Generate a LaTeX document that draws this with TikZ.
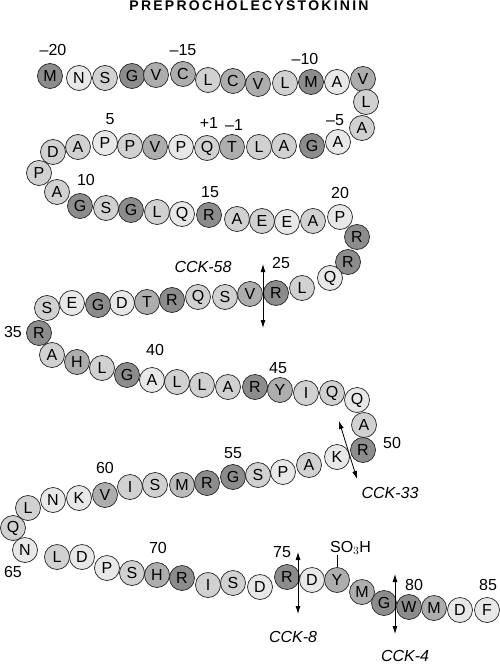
\documentclass[tikz,border=0pt]{standalone}
\usepackage{fontspec}
\setmainfont{Liberation Sans}
\usepackage{tikz}
\usetikzlibrary{arrows.meta}
\definecolor{dk}{gray}{0.55}
\definecolor{md}{gray}{0.68}
\definecolor{lt}{gray}{0.82}
\definecolor{vl}{gray}{0.91}

\begin{document}
\begin{tikzpicture}[x=1pt, y=-1pt,
    res/.style={circle, draw=black!85, line width=0.7pt, minimum size=25pt, inner sep=0pt, font=\fontsize{16}{16}\selectfont},
    num/.style={font=\fontsize{16}{16}\selectfont, inner sep=0pt},
    cut/.style={{Latex[length=8pt,width=5pt]}-{Latex[length=8pt,width=5pt]}, line width=0.8pt},
    cck/.style={font=\itshape\fontsize{16}{16}\selectfont, inner sep=0pt}]
    \useasboundingbox (0,0) rectangle (500,666);

    % Title
    \node[inner sep=0pt, font=\bfseries\fontsize{14}{14}\selectfont\addfontfeatures{LetterSpace=16}] (title) at (249,6) {PREPROCHOLECYSTOKININ};

    % Signal peptide (-20 to -1)
    \node[res, fill=dk] (m20) at (50,76) {M};
    \node[res, fill=vl] (m19) at (79,78) {N};
    \node[res, fill=lt] (m18) at (105,78) {S};
    \node[res, fill=dk] (m17) at (132,76) {G};
    \node[res, fill=md] (m16) at (156,75) {V};
    \node[res, fill=md] (m15) at (183,74) {C};
    \node[res, fill=lt] (m14) at (208,80) {L};
    \node[res, fill=md] (m13) at (233,81) {C};
    \node[res, fill=md] (m12) at (258,84) {V};
    \node[res, fill=lt] (m11) at (285,83) {L};
    \node[res, fill=dk] (m10) at (311,82) {M};
    \node[res, fill=vl] (m9) at (337,82) {A};
    \node[res, fill=md] (m8) at (363,79) {V};
    \node[res, fill=lt] (m7) at (366,102) {L};
    \node[res, fill=lt] (m6) at (362,128) {A};
    \node[res, fill=vl] (m5) at (338,142) {A};
    \node[res, fill=dk] (m4) at (312,146) {G};
    \node[res, fill=lt] (m3) at (284,146) {A};
    \node[res, fill=lt] (m2) at (259,147) {L};
    \node[res, fill=md] (m1) at (232,147) {T};

    % Residues 1 to 20
    \node[res, fill=lt] (r1) at (207,148) {Q};
    \node[res, fill=vl] (r2) at (181,147) {P};
    \node[res, fill=md] (r3) at (155,147) {V};
    \node[res, fill=lt] (r4) at (130,146) {P};
    \node[res, fill=vl] (r5) at (105,143) {P};
    \node[res, fill=lt] (r6) at (78,147) {A};
    \node[res, fill=lt] (r7) at (53,152) {D};
    \node[res, fill=lt] (r8) at (39,173) {P};
    \node[res, fill=lt] (r9) at (57,192) {A};
    \node[res, fill=dk] (r10) at (80,206) {G};
    \node[res, fill=lt] (r11) at (106,208) {S};
    \node[res, fill=dk] (r12) at (131,210) {G};
    \node[res, fill=lt] (r13) at (157,212) {L};
    \node[res, fill=vl] (r14) at (182,214) {Q};
    \node[res, fill=dk] (r15) at (209,215) {R};
    \node[res, fill=lt] (r16) at (237,219) {A};
    \node[res, fill=lt] (r17) at (262,221) {E};
    \node[res, fill=vl] (r18) at (287,222) {E};
    \node[res, fill=lt] (r19) at (313,221) {A};
    \node[res, fill=vl] (r20) at (340,217) {P};

    % Residues 21 to 40
    \node[res, fill=dk] (r21) at (357,237) {R};
    \node[res, fill=dk] (r22) at (348,262) {R};
    \node[res, fill=vl] (r23) at (330,278) {Q};
    \node[res, fill=lt] (r24) at (302,288) {L};
    \node[res, fill=dk] (r25) at (276,293) {R};
    \node[res, fill=md] (r26) at (250,294) {V};
    \node[res, fill=lt] (r27) at (225,297) {S};
    \node[res, fill=lt] (r28) at (198,297) {Q};
    \node[res, fill=dk] (r29) at (172,300) {R};
    \node[res, fill=md] (r30) at (147,302) {T};
    \node[res, fill=vl] (r31) at (122,303) {D};
    \node[res, fill=dk] (r32) at (98,305) {G};
    \node[res, fill=vl] (r33) at (72,303) {E};
    \node[res, fill=lt] (r34) at (47,308) {S};
    \node[res, fill=dk] (r35) at (39,333) {R};
    \node[res, fill=lt] (r36) at (52,355) {A};
    \node[res, fill=md] (r37) at (77,362) {H};
    \node[res, fill=lt] (r38) at (102,368) {L};
    \node[res, fill=dk] (r39) at (127,375) {G};
    \node[res, fill=vl] (r40) at (152,380) {A};

    % Residues 41 to 60
    \node[res, fill=lt] (r41) at (177,382) {L};
    \node[res, fill=lt] (r42) at (202,385) {L};
    \node[res, fill=lt] (r43) at (228,387) {A};
    \node[res, fill=dk] (r44) at (255,387) {R};
    \node[res, fill=md] (r45) at (280,390) {Y};
    \node[res, fill=lt] (r46) at (306,393) {I};
    \node[res, fill=lt] (r47) at (332,393) {Q};
    \node[res, fill=vl] (r48) at (357,400) {Q};
    \node[res, fill=lt] (r49) at (364,425) {A};
    \node[res, fill=dk] (r50) at (363,450) {R};
    \node[res, fill=vl] (r51) at (337,457) {K};
    \node[res, fill=lt] (r52) at (309,465) {A};
    \node[res, fill=vl] (r53) at (283,472) {P};
    \node[res, fill=lt] (r54) at (258,475) {S};
    \node[res, fill=dk] (r55) at (233,477) {G};
    \node[res, fill=dk] (r56) at (207,483) {R};
    \node[res, fill=md!60!lt] (r57) at (182,485) {M};
    \node[res, fill=lt] (r58) at (155,485) {S};
    \node[res, fill=lt] (r59) at (130,487) {I};
    \node[res, fill=md] (r60) at (105,495) {V};

    % Residues 61 to 83
    \node[res, fill=vl] (r61) at (79,498) {K};
    \node[res, fill=vl] (r62) at (53,500) {N};
    \node[res, fill=lt] (r63) at (28,508) {L};
    \node[res, fill=lt] (r64) at (13,528) {Q};
    \node[res, fill=vl] (r65) at (25,550) {N};
    \node[res, fill=lt] (r66) at (57,557) {L};
    \node[res, fill=vl] (r67) at (82,557) {D};
    \node[res, fill=vl] (r68) at (107,568) {P};
    \node[res, fill=lt] (r69) at (132,573) {S};
    \node[res, fill=md] (r70) at (157,575) {H};
    \node[res, fill=dk] (r71) at (182,578) {R};
    \node[res, fill=lt] (r72) at (208,585) {I};
    \node[res, fill=lt] (r73) at (233,583) {S};
    \node[res, fill=vl] (r74) at (260,587) {D};
    \node[res, fill=dk] (r75) at (287,577) {R};
    \node[res, fill=vl] (r76) at (312,580) {D};
    \node[res, fill=md] (r77) at (337,580) {Y};
    \node[res, fill=md] (r78) at (362,592) {M};
    \node[res, fill=dk] (r79) at (384,603) {G};
    \node[res, fill=dk] (r80) at (409,607) {W};
    \node[res, fill=md] (r81) at (434,608) {M};
    \node[res, fill=vl] (r82) at (460,610) {D};
    \node[res, fill=vl] (r83) at (487,610) {F};

    % Position numbers
    \node[num] (lm20) at (53,50) {--20};
    \node[num] (lm15) at (183,50) {--15};
    \node[num] (lm10) at (305,59) {--10};
    \node[num] (lm5) at (335,120) {--5};
    \node[num] (lm1) at (234,125) {--1};
    \node[num] (lp1) at (209,123) {+1};
    \node[num] (l5) at (110,119) {5};
    \node[num] (l10) at (86,180) {10};
    \node[num] (l15) at (210,192) {15};
    \node[num] (l20) at (340,193) {20};
    \node[num] (l25) at (281,263) {25};
    \node[num] (l35) at (13,332) {35};
    \node[num] (l40) at (155,350) {40};
    \node[num] (l45) at (278,368) {45};
    \node[num] (l50) at (392,443) {50};
    \node[num] (l55) at (233,453) {55};
    \node[num] (l60) at (105,468) {60};
    \node[num] (l65) at (13,572) {65};
    \node[num] (l70) at (158,548) {70};
    \node[num] (l75) at (282,552) {75};
    \node[num] (l80) at (414,585) {80};
    \node[num] (l85) at (488,585) {85};

    % Sulfated tyrosine
    \node[num, anchor=west] (so3h) at (330,548) {SO$_3$H};
    \draw[line width=0.7pt] (r77.north) -- (r77.north |- so3h.south);

    % Cleavage sites
    \coordinate (c58a) at (263,264);
    \coordinate (c58b) at (263,328);
    \coordinate (c33a) at (339,421);
    \coordinate (c33b) at (357,479);
    \coordinate (c8a) at (298,552);
    \coordinate (c8b) at (298,614);
    \coordinate (c4a) at (395,574);
    \coordinate (c4b) at (395,634);
    \draw[cut] (c58a) -- (c58b);
    \draw[cut] (c33a) -- (c33b);
    \draw[cut] (c8a) -- (c8b);
    \draw[cut] (c4a) -- (c4b);
    \node[cck] (cck58) at (203,267) {CCK-58};
    \node[cck] (cck33) at (390,493) {CCK-33};
    \node[cck] (cck8) at (293,637) {CCK-8};
    \node[cck] (cck4) at (405,656) {CCK-4};

\end{tikzpicture}
\end{document}
